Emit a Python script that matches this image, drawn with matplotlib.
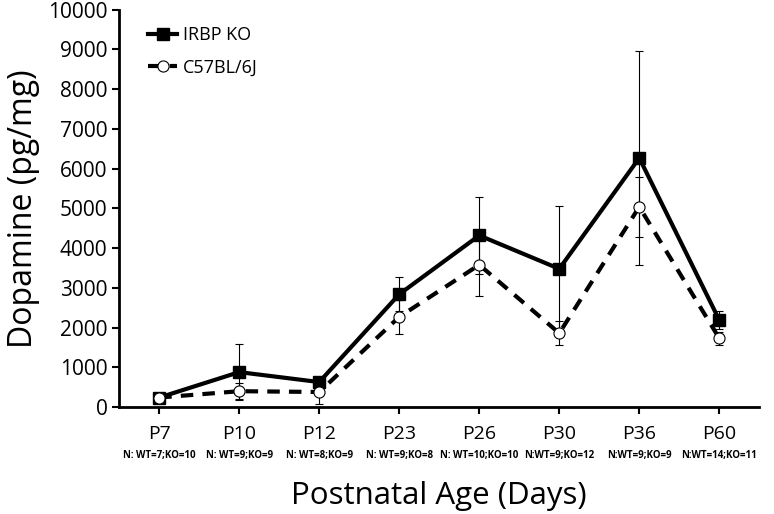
import numpy as np
import matplotlib.pyplot as plt

plt.rcParams['font.family'] = ['Open Sans', 'DejaVu Sans']

ages = ["P7", "P10", "P12", "P23", "P26", "P30", "P36", "P60"]
n_labels = ["N: WT=7;KO=10", "N: WT=9;KO=9", "N: WT=8;KO=9", "N: WT=9;KO=8",
            "N: WT=10;KO=10", "N:WT=9;KO=12", "N:WT=9;KO=9", "N:WT=14;KO=11"]

ko_mean = [240, 880, 630, 2840, 4320, 3480, 6270, 2190]
ko_err = [60, 710, 80, 430, 960, 1580, 2700, 220]
wt_mean = [240, 400, 380, 2270, 3580, 1860, 5040, 1730]
wt_err = [40, 200, 300, 420, 780, 300, 750, 160]

x = np.arange(len(ages))

fig, ax = plt.subplots(figsize=(7.74, 5.14), dpi=100)
fig.subplots_adjust(left=0.154, right=0.981, top=0.981, bottom=0.208)

ax.errorbar(x, ko_mean, yerr=ko_err, fmt="none", ecolor="black", elinewidth=0.8,
            capsize=3, capthick=0.8, zorder=2)
ax.errorbar(x, wt_mean, yerr=wt_err, fmt="none", ecolor="black", elinewidth=0.8,
            capsize=3, capthick=0.8, zorder=2)
ax.plot(x, ko_mean, "-", color="black", lw=3, marker="s", markersize=8,
        markerfacecolor="black", label="IRBP KO", zorder=3)
ax.plot(x, wt_mean, "--", color="black", lw=3, dashes=(3, 2.2), marker="o", markersize=8,
        markerfacecolor="white", markeredgecolor="black", markeredgewidth=0.8,
        label="C57BL/6J", zorder=4)

ax.set_xlim(-0.5, 7.5)
ax.set_ylim(0, 10000)
ax.set_yticks(np.arange(0, 10001, 1000))
ax.set_xticks(x)
ax.set_xticklabels(ages, fontsize=14)
ax.tick_params(axis="x", pad=8, length=5, width=1.5, direction="out")
ax.tick_params(axis="y", labelsize=15, length=5, width=1.5, direction="out")

for i, lab in enumerate(n_labels):
    ax.text(x[i], -0.123, lab, transform=ax.get_xaxis_transform(), ha="center",
            va="center", fontsize=7, fontweight="bold")

for side in ["top", "right"]:
    ax.spines[side].set_visible(False)
for side in ["left", "bottom"]:
    ax.spines[side].set_linewidth(2)

ax.set_ylabel("Dopamine (pg/mg)", fontsize=23, labelpad=6)
ax.set_xlabel("Postnatal Age (Days)", fontsize=22.5, labelpad=27)

ax.legend(loc="upper left", frameon=False, fontsize=13, handlelength=1.6,
          handletextpad=0.3, labelspacing=0.8, bbox_to_anchor=(0.02, 1.0))

fig.savefig("out.png", dpi=100)
